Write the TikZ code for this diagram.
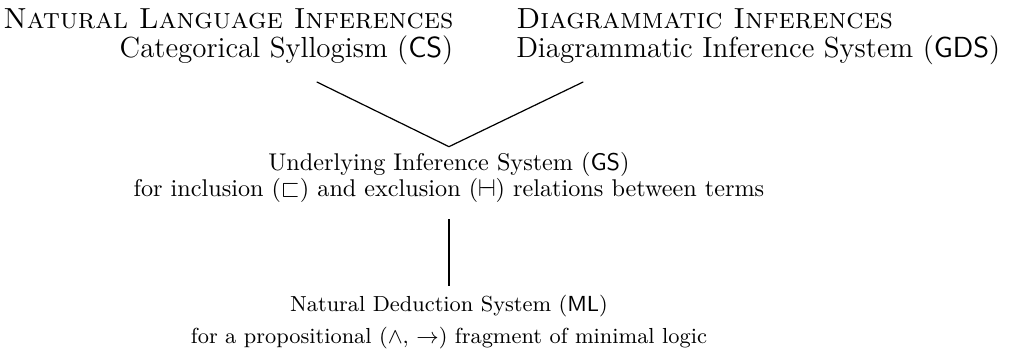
\documentclass[tikz,border=0pt]{standalone}
\usepackage{amssymb,amsmath}
\usepackage{tikz}
\usetikzlibrary{positioning}
\tikzset{
	head node/.style={inner sep=0pt,font=\large},
	sys node/.style={inner sep=0pt,font=\normalsize},
	base node/.style={inner sep=0pt,font=\small},
	link/.style={-,line width=0.5pt}
}
\newcommand{\sysname}[1]{(\textsf{#1})}
\newcommand{\exclrel}{\mathrel{\vdash\!\!\!\dashv}}

\begin{document}
\begin{tikzpicture}
	\useasboundingbox (0,0) rectangle (14.74,-5.17);
	% top row
	\node [head node,anchor=base east] (nl) at (6.59,-0.407) {\textsc{Natural Language Inferences}};
	\node [head node,anchor=base east] (cs) at (6.59,-0.842) {Categorical Syllogism \sysname{CS}};
	\node [head node,anchor=base west] (di) at (7.49,-0.407) {\textsc{Diagrammatic Inferences}};
	\node [head node,anchor=base west] (gds) at (7.49,-0.842) {Diagrammatic Inference System \sysname{GDS}};
	% middle
	\node [sys node,anchor=base] (gs) at (6.52,-2.47) {Underlying Inference System \sysname{GS}};
	\node [sys node,anchor=base] (gsd) at (6.52,-2.85) {for inclusion ($\sqsubset$) and exclusion ($\exclrel$) relations between terms};
	% bottom
	\node [base node,anchor=base] (ml) at (6.52,-4.53) {Natural Deduction System \sysname{ML}};
	\node [base node,anchor=base] (mld) at (6.52,-4.99) {for a propositional ($\wedge$, $\rightarrow$) fragment of minimal logic};
	\coordinate (apex) at (6.52,-2.13);
	\coordinate (csend) at (4.60,-1.19);
	\coordinate (gdsend) at (8.47,-1.19);
	\draw [link] (csend) -- (apex) -- (gdsend);
	\draw [link,shorten <=0.24cm,shorten >=0.13cm] (gsd.south) -- (ml.north);
\end{tikzpicture}
\end{document}
